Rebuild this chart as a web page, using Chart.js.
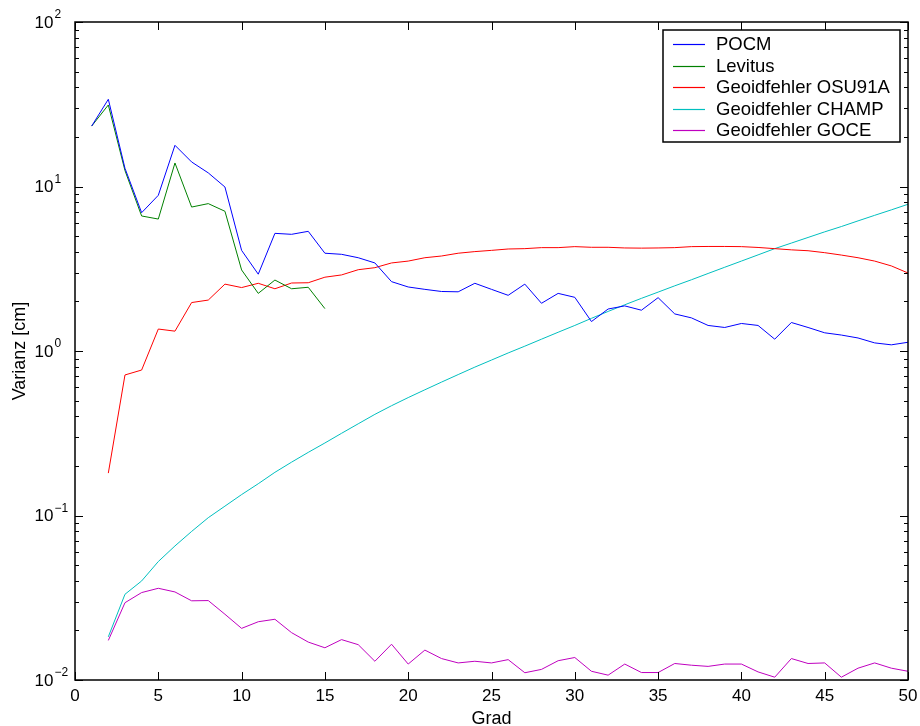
<!DOCTYPE html>
<html>
<head>
<meta charset="utf-8">
<title>Varianz</title>
<script src="https://cdn.jsdelivr.net/npm/chart.js@4.4.1/dist/chart.umd.min.js"></script>
<style>
  html, body { margin: 0; padding: 0; background: #fff; }
  #wrap { width: 920px; height: 726px; }
</style>
</head>
<body>
<div id="wrap"><canvas id="chart" width="920" height="726"></canvas></div>
<script>
// Data (Grad -> Varianz [cm])
const pocmStart = 1;
const pocm = [23.3, 33.9, 12.9, 6.93, 8.84, 17.8, 14.1, 12.1, 9.93, 4.09,
  2.93, 5.19, 5.12, 5.34, 3.93, 3.87, 3.69, 3.43, 2.64, 2.45,
  2.37, 2.30, 2.29, 2.58, 2.37, 2.18, 2.55, 1.95, 2.24, 2.12,
  1.51, 1.80, 1.88, 1.77, 2.11, 1.68, 1.59, 1.43, 1.39, 1.47,
  1.43, 1.18, 1.49, 1.39, 1.29, 1.25, 1.20, 1.12, 1.09, 1.13];

const levitusStart = 1;
const levitus = [23.3, 31.3, 12.5, 6.62, 6.34, 13.9, 7.50, 7.87, 7.07, 3.11,
  2.24, 2.70, 2.39, 2.44, 1.81];

const osuStart = 2;
const osu91a = [0.181, 0.715, 0.766, 1.36, 1.32, 1.97, 2.04, 2.55, 2.43,
  2.58, 2.39, 2.59, 2.60, 2.81, 2.90, 3.12, 3.21, 3.43, 3.52,
  3.69, 3.78, 3.93, 4.02, 4.09, 4.17, 4.19, 4.25, 4.25, 4.31,
  4.27, 4.27, 4.23, 4.22, 4.23, 4.25, 4.31, 4.32, 4.32, 4.31,
  4.26, 4.19, 4.12, 4.07, 3.96, 3.83, 3.69, 3.52, 3.29, 2.98];

const champStart = 2;
const champ = [0.0183, 0.0332, 0.040, 0.0525, 0.0653, 0.080, 0.097, 0.114, 0.134,
  0.156, 0.183, 0.211, 0.242, 0.276, 0.316, 0.361, 0.412, 0.465, 0.521,
  0.581, 0.647, 0.719, 0.798, 0.881, 0.973, 1.07, 1.18, 1.30, 1.43,
  1.58, 1.74, 1.91, 2.09, 2.28, 2.49, 2.71, 2.96, 3.23, 3.52,
  3.84, 4.19, 4.53, 4.90, 5.30, 5.71, 6.18, 6.68, 7.21, 7.80];

const goceStart = 2;
const goce = [0.0174, 0.0295, 0.0340, 0.0361, 0.0343, 0.0303, 0.0304, 0.0251, 0.0206,
  0.0226, 0.0234, 0.0194, 0.0170, 0.0157, 0.0176, 0.0164, 0.0130, 0.0165, 0.0125,
  0.0152, 0.0135, 0.0127, 0.0130, 0.0127, 0.0133, 0.01107, 0.0116, 0.0131, 0.0137,
  0.0113, 0.0107, 0.0125, 0.0111, 0.0111, 0.0126, 0.0123, 0.0121, 0.0125, 0.0125,
  0.0112, 0.0104, 0.0135, 0.0126, 0.0127, 0.0104, 0.0118, 0.0127, 0.0118, 0.0113];

// Axis ticks
const xTicks = [0, 5, 10, 15, 20, 25, 30, 35, 40, 45, 50];
const yExponents = [-2, -1, 0, 1, 2];

const FONT = "'Liberation Sans', Arial, Helvetica, sans-serif";

// turn a series into {x, y} points starting at a given degree
function toPoints(values, start) {
  return values.map((v, i) => ({ x: start + i, y: v }));
}

// MATLAB-like axes: box, inward ticks, labels and legend
const matlabAxes = {
  id: 'matlabAxes',
  afterDraw(chart) {
    const ctx = chart.ctx;
    const area = chart.chartArea;
    const xs = chart.scales.x;
    const ys = chart.scales.y;
    const left = area.left, right = area.right, top = area.top, bottom = area.bottom;

    ctx.save();
    ctx.strokeStyle = '#000';
    ctx.fillStyle = '#000';
    ctx.lineWidth = 1.5;

    // box
    ctx.strokeRect(left, top, right - left, bottom - top);

    // x ticks
    ctx.beginPath();
    xTicks.forEach(t => {
      const px = Math.round(xs.getPixelForValue(t)) + 0.5;
      ctx.moveTo(px, bottom); ctx.lineTo(px, bottom - 8);
      ctx.moveTo(px, top); ctx.lineTo(px, top + 8);
    });
    // y ticks (major + minor)
    yExponents.forEach(e => {
      const py = Math.round(ys.getPixelForValue(Math.pow(10, e))) + 0.5;
      ctx.moveTo(left, py); ctx.lineTo(left + 8, py);
      ctx.moveTo(right, py); ctx.lineTo(right - 8, py);
      if (e < 2) {
        for (let k = 2; k <= 9; k++) {
          const pm = Math.round(ys.getPixelForValue(k * Math.pow(10, e))) + 0.5;
          ctx.moveTo(left, pm); ctx.lineTo(left + 4, pm);
          ctx.moveTo(right, pm); ctx.lineTo(right - 4, pm);
        }
      }
    });
    ctx.lineWidth = 1;
    ctx.stroke();

    // x tick labels
    ctx.font = '17px ' + FONT;
    ctx.textAlign = 'center';
    ctx.textBaseline = 'middle';
    xTicks.forEach(t => {
      ctx.fillText(String(t), xs.getPixelForValue(t), bottom + 16);
    });

    // y tick labels 10^e
    yExponents.forEach(e => {
      const py = ys.getPixelForValue(Math.pow(10, e));
      ctx.font = '17px ' + FONT;
      ctx.textAlign = 'right';
      ctx.textBaseline = 'middle';
      ctx.fillText('10', 53.5, py + 1);
      ctx.font = '12px ' + FONT;
      ctx.textAlign = 'left';
      ctx.textBaseline = 'alphabetic';
      ctx.fillText(e < 0 ? '\u2212' + (-e) : String(e), 54.5, py - 4);
    });

    // axis titles
    ctx.font = '18px ' + FONT;
    ctx.textAlign = 'center';
    ctx.textBaseline = 'alphabetic';
    ctx.fillText('Grad', (left + right) / 2, 724);
    ctx.save();
    ctx.translate(25, (top + bottom) / 2);
    ctx.rotate(-Math.PI / 2);
    ctx.fillText('Varianz [cm]', 0, 0);
    ctx.restore();

    // legend
    const lx = 663, ly = 30, lw = 237, lh = 112;
    ctx.fillStyle = '#fff';
    ctx.fillRect(lx, ly, lw, lh);
    ctx.strokeStyle = '#000';
    ctx.lineWidth = 1.5;
    ctx.strokeRect(lx, ly, lw, lh);
    ctx.font = '18.5px ' + FONT;
    ctx.textAlign = 'left';
    ctx.textBaseline = 'middle';
    chart.data.datasets.forEach((ds, i) => {
      const ry = 44 + i * 21.5;
      ctx.strokeStyle = ds.borderColor;
      ctx.lineWidth = 1.2;
      ctx.beginPath();
      ctx.moveTo(673, Math.round(ry) + 0.5);
      ctx.lineTo(705, Math.round(ry) + 0.5);
      ctx.stroke();
      ctx.fillStyle = '#000';
      ctx.fillText(ds.label, 716, ry + 1);
    });

    ctx.restore();
  }
};

new Chart(document.getElementById('chart').getContext('2d'), {
  type: 'line',
  data: {
    datasets: [
      { label: 'POCM', data: toPoints(pocm, pocmStart), borderColor: '#0000ff' },
      { label: 'Levitus', data: toPoints(levitus, levitusStart), borderColor: '#008000' },
      { label: 'Geoidfehler OSU91A', data: toPoints(osu91a, osuStart), borderColor: '#ff0000' },
      { label: 'Geoidfehler CHAMP', data: toPoints(champ, champStart), borderColor: '#00bfbf' },
      { label: 'Geoidfehler GOCE', data: toPoints(goce, goceStart), borderColor: '#bf00bf' },
    ],
  },
  options: {
    responsive: false,
    animation: false,
    devicePixelRatio: 1,
    layout: { padding: { left: 75, top: 22, right: 12, bottom: 46 } },
    elements: {
      point: { radius: 0 },
      line: { borderWidth: 1, tension: 0, fill: false },
    },
    scales: {
      x: { type: 'linear', min: 0, max: 50, display: false },
      y: { type: 'logarithmic', min: 0.01, max: 100, display: false },
    },
    plugins: {
      legend: { display: false },
      tooltip: { enabled: false },
    },
  },
  plugins: [matlabAxes],
});
</script>
</body>
</html>
